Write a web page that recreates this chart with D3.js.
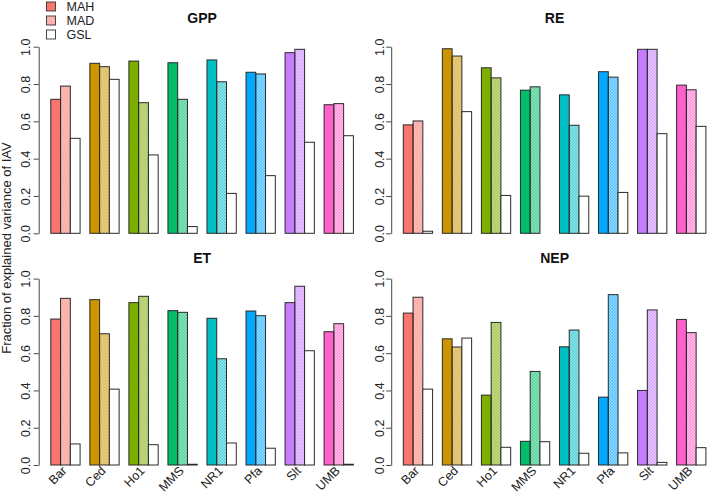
<!DOCTYPE html>
<html>
<head>
<meta charset="utf-8">
<script src="https://cdn.jsdelivr.net/npm/d3@7"></script>
<style>
  body { margin: 0; background: #fff; }
  svg { display: block; font-family: "Liberation Sans", Arial, sans-serif; }
</style>
</head>
<body>
<svg id="chart" width="709" height="496"></svg>
<script>
// ---- data ----
const sites = ["Bar", "Ced", "Ho1", "MMS", "NR1", "Pfa", "Slt", "UMB"];
const methods = ["MAH", "MAD", "GSL"];
const siteColors = ["#F8766D", "#CD9600", "#7CAE00", "#00BE67", "#00BFC4", "#00A9FF", "#C77CFF", "#FF61CC"];
const yTicks = [0, 0.2, 0.4, 0.6, 0.8, 1.0];

const gppMAH = [0.718, 0.911, 0.923, 0.914, 0.929, 0.863, 0.968, 0.689];
const gppMAD = [0.789, 0.893, 0.700, 0.718, 0.812, 0.854, 0.986, 0.695];
const gppGSL = [0.509, 0.825, 0.420, 0.036, 0.214, 0.309, 0.488, 0.523];

const reMAH = [0.581, 0.989, 0.887, 0.767, 0.742, 0.866, 0.986, 0.794];
const reMAD = [0.602, 0.950, 0.833, 0.785, 0.579, 0.837, 0.986, 0.769];
const reGSL = [0.011, 0.652, 0.203, 0.000, 0.199, 0.219, 0.534, 0.573];

const etMAH = [0.783, 0.887, 0.871, 0.828, 0.787, 0.826, 0.871, 0.715];
const etMAD = [0.894, 0.704, 0.905, 0.819, 0.570, 0.801, 0.959, 0.758];
const etGSL = [0.113, 0.407, 0.109, 0.004, 0.118, 0.090, 0.613, 0.004];

const nepMAH = [0.815, 0.677, 0.375, 0.127, 0.634, 0.364, 0.400, 0.781];
const nepMAD = [0.900, 0.633, 0.765, 0.502, 0.724, 0.914, 0.832, 0.710];
const nepGSL = [0.407, 0.681, 0.095, 0.125, 0.063, 0.065, 0.014, 0.093];

const panelTitles = ["GPP", "RE", "ET", "NEP"];
const panelSeries = [
  [gppMAH, gppMAD, gppGSL],
  [reMAH, reMAD, reGSL],
  [etMAH, etMAD, etGSL],
  [nepMAH, nepMAD, nepGSL]
];
const yLabel = "Fraction of explained variance of IAV";

// ---- layout ----
const svg = d3.select("#chart");
const plotW = 326.8;
const layouts = [
  { left: 38.7,  y0: 233.3, y1: 46.7,  titleY: 23,  labelDx: -8.5, xlabels: false },
  { left: 391.2, y0: 233.3, y1: 46.7,  titleY: 23,  labelDx: -6.8, xlabels: false },
  { left: 38.7,  y0: 465,   y1: 278.6, titleY: 263, labelDx: -8.5, xlabels: true },
  { left: 391.2, y0: 465,   y1: 278.6, titleY: 263, labelDx: -6.8, xlabels: true }
];

// hatch patterns for MAD bars
const defs = svg.append("defs");
siteColors.forEach((c, i) => {
  const p = defs.append("pattern")
    .attr("id", "hatch" + i)
    .attr("patternUnits", "userSpaceOnUse")
    .attr("width", 3).attr("height", 3);
  p.append("rect").attr("width", 3).attr("height", 3).attr("fill", c).attr("fill-opacity", 0.45);
  p.append("path").attr("d", "M0,3 L3,0 M-1,1 L1,-1 M2,4 L4,2")
    .attr("stroke", c).attr("stroke-width", 0.6).attr("stroke-opacity", 0.6);
  p.append("path").attr("d", "M0,0 L3,3 M-1,2 L1,4 M2,-1 L4,1")
    .attr("stroke", c).attr("stroke-width", 0.6).attr("stroke-opacity", 0.35);
});

function fillFor(siteIdx, methodIdx) {
  if (methodIdx === 0) return siteColors[siteIdx];
  if (methodIdx === 1) return "url(#hatch" + siteIdx + ")";
  return "#ffffff";
}

panelSeries.forEach((series, pi) => {
  const L = layouts[pi];
  const x = d3.scaleLinear().domain([-0.24, 33.24]).range([L.left, L.left + plotW]);
  const y = d3.scaleLinear().domain([0, 1]).range([L.y0, L.y1]);
  const g = svg.append("g");

  // bars: group i, method j occupies units [1 + 4i + j, 2 + 4i + j]
  const bars = [];
  sites.forEach((s, i) => {
    methods.forEach((m, j) => {
      bars.push({ i, j, v: series[j][i], u: 1 + 4 * i + j });
    });
  });
  g.selectAll("rect.bar").data(bars).join("rect")
    .attr("class", "bar")
    .attr("x", d => x(d.u))
    .attr("width", d => x(d.u + 1) - x(d.u))
    .attr("y", d => y(d.v))
    .attr("height", d => y(0) - y(d.v))
    .attr("fill", d => fillFor(d.i, d.j))
    .attr("stroke", "#2a2a2a")
    .attr("stroke-width", 1);

  // y axis
  const ax = g.append("g")
    .attr("transform", `translate(${L.left},0)`)
    .call(d3.axisLeft(y).tickValues(yTicks).tickSize(5).tickSizeOuter(0).tickFormat(d3.format(".1f")));
  ax.select(".domain").attr("stroke", "#333").attr("stroke-width", 0.9);
  ax.selectAll(".tick line").attr("stroke", "#333").attr("stroke-width", 0.9);
  ax.selectAll(".tick text")
    .attr("x", null).attr("dy", null)
    .attr("transform", `translate(${L.labelDx},0) rotate(-90)`)
    .attr("text-anchor", "middle")
    .attr("font-size", 12.5)
    .attr("font-family", "Liberation Sans, Arial, sans-serif")
    .attr("fill", "#222");

  // title
  g.append("text")
    .attr("x", L.left + plotW / 2).attr("y", L.titleY)
    .attr("text-anchor", "middle")
    .attr("font-size", 14).attr("font-weight", "bold")
    .attr("fill", "#111")
    .text(panelTitles[pi]);

  // x labels
  if (L.xlabels) {
    g.selectAll("text.xl").data(sites).join("text")
      .attr("class", "xl")
      .attr("transform", (d, i) => `translate(${x(2.5 + 4 * i) + 2},${L.y0 + 6.5}) rotate(-45)`)
      .attr("text-anchor", "end")
      .attr("font-size", 12.5)
      .attr("fill", "#222")
      .text(d => d);
  }
});

// y axis label
svg.append("text")
  .attr("transform", "translate(11,248) rotate(-90)")
  .attr("text-anchor", "middle")
  .attr("font-size", 13)
  .attr("fill", "#222")
  .text(yLabel);

// legend
const legend = svg.append("g");
methods.forEach((m, j) => {
  const cy = 6.5 + 14 * j;
  legend.append("rect")
    .attr("x", 46.5).attr("y", cy - 4.5)
    .attr("width", 9).attr("height", 9)
    .attr("fill", fillFor(0, j))
    .attr("stroke", "#333").attr("stroke-width", 0.9);
  legend.append("text")
    .attr("x", 66.5).attr("y", cy + 4.5)
    .attr("font-size", 12.5)
    .attr("fill", "#222")
    .text(m);
});
</script>
</body>
</html>
